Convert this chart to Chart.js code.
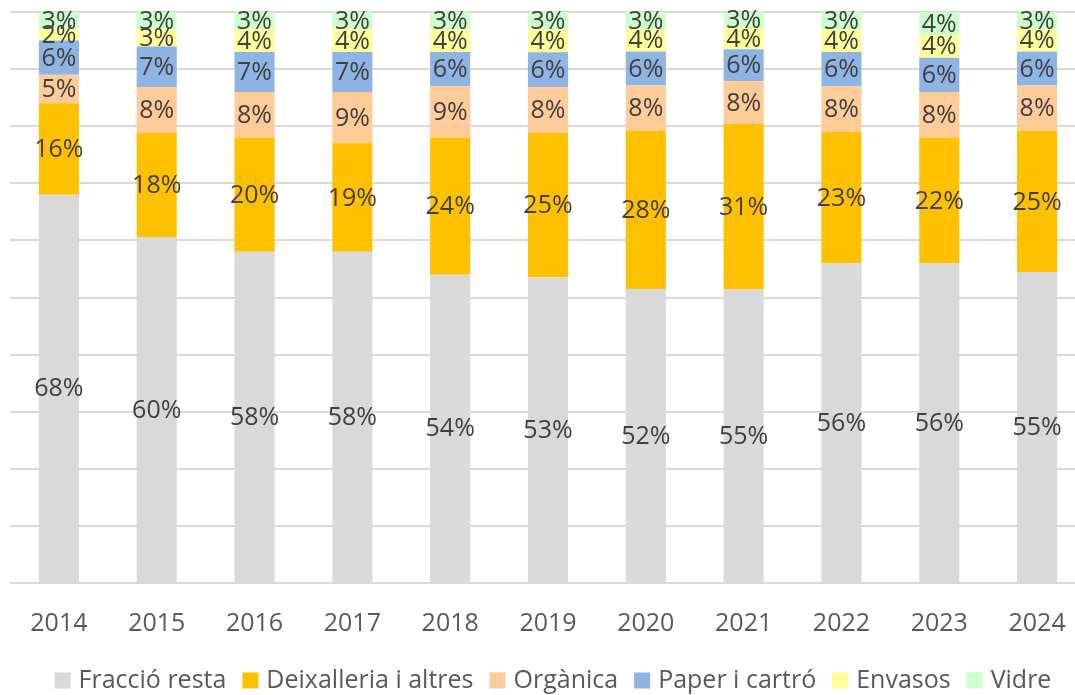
<!DOCTYPE html>
<html>
<head>
<meta charset="utf-8">
<script src="https://cdn.jsdelivr.net/npm/chart.js@4.4.1/dist/chart.umd.min.js"></script>
<style>
  html, body { margin: 0; padding: 0; background: #fff; overflow: hidden; }
  #wrap { position: relative; width: 1096px; height: 695px; }
</style>
</head>
<body>
<div id="wrap"><canvas id="c"></canvas></div>
<script>
// Categories
const years = ['2014','2015','2016','2017','2018','2019','2020','2021','2022','2023','2024'];
// Displayed percentages per series (bars are drawn as 100% stacked shares of each year's total)
const fraccioResta = [68, 60, 58, 58, 54, 53, 52, 55, 56, 56, 55];
const deixalleria  = [16, 18, 20, 19, 24, 25, 28, 31, 23, 22, 25];
const organica     = [ 5,  8,  8,  9,  9,  8,  8,  8,  8,  8,  8];
const paperCarto   = [ 6,  7,  7,  7,  6,  6,  6,  6,  6,  6,  6];
const envasos      = [ 2,  3,  4,  4,  4,  4,  4,  4,  4,  4,  4];
const vidre        = [ 3,  3,  3,  3,  3,  3,  3,  3,  3,  4,  3];

const seriesNames = ['Fracció resta', 'Deixalleria i altres', 'Orgànica', 'Paper i cartró', 'Envasos', 'Vidre'];
const seriesValues = [fraccioResta, deixalleria, organica, paperCarto, envasos, vidre];
const seriesColors = ['#D9D9D9', '#FFC000', '#FFCC99', '#8EB4E3', '#FFFF99', '#CCFFCC'];

const totals = years.map((_, i) => seriesValues.reduce((s, arr) => s + arr[i], 0));

const FONT = "'Open Sans', 'DejaVu Sans', sans-serif";

const datasets = seriesNames.map((name, k) => ({
  label: name,
  data: seriesValues[k].map((v, i) => v / totals[i] * 100),
  raw: seriesValues[k],
  backgroundColor: seriesColors[k],
  borderWidth: 0,
  categoryPercentage: 1.0,
  barPercentage: 0.41
}));

const valueLabels = {
  id: 'valueLabels',
  afterDatasetsDraw(chart) {
    const ctx = chart.ctx;
    ctx.save();
    ctx.font = '25px ' + FONT;
    ctx.fillStyle = '#404040';
    ctx.textAlign = 'center';
    ctx.textBaseline = 'middle';
    chart.data.datasets.forEach((ds, di) => {
      const meta = chart.getDatasetMeta(di);
      meta.data.forEach((el, i) => {
        const y = (el.y + el.base) / 2;
        ctx.fillText(ds.raw[i] + '%', el.x, y + 1);
      });
    });
    ctx.restore();
  }
};

const customLegend = {
  id: 'customLegend',
  afterDraw(chart) {
    const ctx = chart.ctx;
    ctx.save();
    ctx.font = '25px ' + FONT;
    ctx.textBaseline = 'middle';
    const box = 16, gapText = 8, gapItem = 16;
    const items = chart.data.datasets.map(ds => ({ label: ds.label, color: ds.backgroundColor, w: box + gapText + ctx.measureText(ds.label).width }));
    const total = items.reduce((s, it) => s + it.w, 0) + gapItem * (items.length - 1);
    const cx = 553;
    let x = cx - total / 2;
    const yc = 680.5;
    items.forEach(it => {
      ctx.fillStyle = it.color;
      ctx.fillRect(x, yc - box / 2, box, box);
      ctx.fillStyle = '#595959';
      ctx.textAlign = 'left';
      ctx.fillText(it.label, x + box + gapText, yc);
      x += it.w + gapItem;
    });
    ctx.restore();
  }
};

new Chart(document.getElementById('c'), {
  type: 'bar',
  data: { labels: years, datasets },
  options: {
    responsive: true,
    maintainAspectRatio: false,
    animation: false,
    layout: { padding: { left: 10, right: 10, top: 12, bottom: 30 } },
    plugins: {
      legend: { display: false },
      tooltip: { enabled: false }
    },
    scales: {
      x: {
        stacked: true,
        grid: { display: false, drawTicks: false },
        border: { display: false },
        ticks: { color: '#595959', font: { family: FONT, size: 25 }, padding: 26 }
      },
      y: {
        stacked: true,
        min: 0,
        max: 100,
        ticks: { display: false, stepSize: 10 },
        grid: { color: '#D9D9D9', lineWidth: 2, drawTicks: false },
        border: { display: false }
      }
    }
  },
  plugins: [valueLabels, customLegend]
});
</script>
</body>
</html>
